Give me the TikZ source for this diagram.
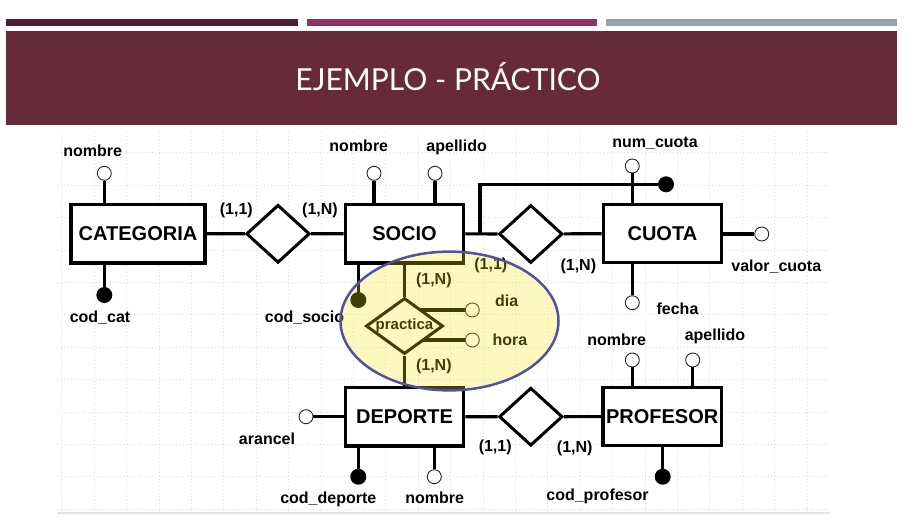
\documentclass[tikz,border=0pt]{standalone}
\usepackage{fontspec}
\setmainfont{Liberation Sans}
\newfontfamily\headfont{Lato}
\usetikzlibrary{shapes.geometric}

\pgfdeclarelayer{gridlayer}
\pgfdeclarelayer{edgelayer}
\pgfdeclarelayer{tintlayer}
\pgfsetlayers{gridlayer,edgelayer,main,tintlayer}

\definecolor{barA}{RGB}{75,26,51}
\definecolor{barB}{RGB}{143,49,98}
\definecolor{barC}{RGB}{155,161,168}
\definecolor{banner}{RGB}{103,42,58}
\definecolor{gridc}{RGB}{214,223,245}
\definecolor{framec}{RGB}{228,228,232}
\definecolor{lensfill}{RGB}{245,230,20}
\definecolor{lensline}{RGB}{80,82,160}

\tikzset{
  ent/.style={draw, line width=3.3pt, fill=white, minimum width=118.5pt,
    minimum height=58.5pt, inner sep=0pt,
    font=\fontsize{20}{24}\selectfont\bfseries},
  rel/.style={diamond, draw, line width=3pt, fill=white, inner sep=0pt,
    minimum width=63.5pt, minimum height=58pt},
  attr/.style={circle, draw=black!85, line width=0.9pt, fill=white,
    minimum size=14pt, inner sep=0pt},
  keyattr/.style={circle, fill=black, minimum size=16pt, inner sep=0pt},
  lbl/.style={anchor=base, inner sep=0pt,
    font=\fontsize{16}{19}\selectfont\bfseries},
  link/.style={line width=3.2pt},
  gridline/.style={gridc, line width=0.8pt, dash pattern=on 0.9pt off 2.6pt},
}

\begin{document}
\begin{tikzpicture}[x=1pt, y=-1pt]
\useasboundingbox (0,0) rectangle (917,522);

% page, header bars, banner and dotted drawing grid
\begin{pgfonlayer}{gridlayer}
  \fill[white] (0,0) rectangle (917,522);
  \fill[barA] (6,19) rectangle (298,26);
  \fill[barB] (307,19) rectangle (597,26);
  \fill[barC] (606,19) rectangle (897,26);
  \fill[banner] (6,31) rectangle (897,125);
  \foreach \k in {0,...,23}
    \draw[gridline] (61.7+32.4*\k,132) -- (61.7+32.4*\k,512);
  \foreach \k in {0,...,11}
    \draw[gridline] (57,152.7+32.4*\k) -- (828,152.7+32.4*\k);
  \draw[framec, line width=1.2pt] (57,513) -- (830,513);
\end{pgfonlayer}

\node[anchor=base, inner sep=0pt, text=white] (title) at (448,90.7)
  {\resizebox{305pt}{\height}{\headfont\fontsize{30.3}{34}\selectfont EJEMPLO - PRÁCTICO}};

% entities
\node[ent, minimum width=134pt] (cat) at (138,233.8) {CATEGORIA};
\node[ent] (soc) at (404.5,233.7) {SOCIO};
\node[ent] (cuo) at (662.4,233.5) {CUOTA};
\node[ent] (dep) at (404.5,416.7) {DEPORTE};
\node[ent] (pro) at (662.2,416.5) {PROFESOR};

% relationships
\node[rel] (r1) at (278,233.8) {};
\node[rel] (r2) at (530.8,234) {};
\node[rel] (r3) at (530.8,416.7) {};
\node[rel, minimum width=77pt, minimum height=56pt, shape aspect=1.4,
  font=\fontsize{15}{18}\selectfont\bfseries] (prac) at (404.5,326) {practica};

% attributes
\node[attr] (catnom) at (104.3,173.3) {};
\node[keyattr] (catkey) at (104.3,295) {};
\node[attr] (socnom) at (374,173.3) {};
\node[attr] (socape) at (435,173.3) {};
\node[keyattr] (sockey) at (358.3,300) {};
\node[attr] (cuonum) at (632.3,166) {};
\node[keyattr] (cuokey) at (666,184.3) {};
\node[attr] (cuoval) at (761.7,234) {};
\node[attr] (cuofec) at (632.3,302.7) {};
\node[attr] (dia) at (472.3,310) {};
\node[attr] (hora) at (472.3,340) {};
\node[attr] (deparan) at (306,416.7) {};
\node[keyattr] (depkey) at (358.3,476.7) {};
\node[attr] (depnom) at (434.3,476.7) {};
\node[attr] (pronom) at (632.3,360) {};
\node[attr] (proape) at (692.7,360) {};
\node[keyattr] (prokey) at (662.7,476.7) {};
\coordinate (jn) at (480,233.7);

% connectors
\begin{pgfonlayer}{edgelayer}
  \draw[link] (cat) -- (r1) -- (soc);
  \draw[link] (soc) -- (r2) -- (cuo);
  \draw[link] (soc) -- (prac) -- (dep);
  \draw[link] (dep) -- (r3) -- (pro);
  \draw[link] (jn) |- (cuokey);
  \draw[link] (catnom) -- (catnom |- cat.north);
  \draw[link] (catkey) -- (catkey |- cat.south);
  \draw[link] (socnom) -- (socnom |- soc.north);
  \draw[link] (socape) -- (socape |- soc.north);
  \draw[link] (sockey) -- (sockey |- soc.south);
  \draw[link] (cuonum) -- (cuonum |- cuo.north);
  \draw[link] (cuofec) -- (cuofec |- cuo.south);
  \draw[link] (cuoval) -- (cuoval -| cuo.east);
  \draw[link] (dia) -- (dia -| prac.center);
  \draw[link] (hora) -- (hora -| prac.center);
  \draw[link] (deparan) -- (deparan -| dep.west);
  \draw[link] (depkey) -- (depkey |- dep.south);
  \draw[link] (depnom) -- (depnom |- dep.south);
  \draw[link] (pronom) -- (pronom |- pro.north);
  \draw[link] (proape) -- (proape |- pro.north);
  \draw[link] (prokey) -- (prokey |- pro.south);
\end{pgfonlayer}

% attribute names and cardinalities
\node[lbl] (tcatnom) at (92.7,156) {nombre};
\node[lbl] (tcatkey) at (100,322.5) {cod\_cat};
\node[lbl] (c1) at (236.3,214) {(1,1)};
\node[lbl] (c2) at (320,214) {(1,N)};
\node[lbl] (tsocnom) at (358.8,151.7) {nombre};
\node[lbl] (tsocape) at (456.7,151.7) {apellido};
\node[lbl] (tcuonum) at (655,147.3) {num\_cuota};
\node[lbl] (tcuoval) at (776.3,271.7) {valor\_cuota};
\node[lbl] (tcuofec) at (677.5,314) {fecha};
\node[lbl] (c3) at (490.8,269.3) {(1,1)};
\node[lbl] (c4) at (578.3,270) {(1,N)};
\node[lbl] (c5) at (433.8,284.3) {(1,N)};
\node[lbl] (c6) at (433.8,370.7) {(1,N)};
\node[lbl] (tdia) at (506.7,306.7) {dia};
\node[lbl] (thora) at (510,345.7) {hora};
\node[lbl] (tsockey) at (304.5,322.7) {cod\_socio};
\node[lbl] (tdeparan) at (267,444) {arancel};
\node[lbl] (tdepkey) at (328.3,503.3) {cod\_deporte};
\node[lbl] (tdepnom) at (434.7,503.3) {nombre};
\node[lbl] (c7) at (495.2,451.7) {(1,1)};
\node[lbl] (c8) at (574.7,452.3) {(1,N)};
\node[lbl] (tpronom) at (616.7,345.7) {nombre};
\node[lbl] (tproape) at (715,340.7) {apellido};
\node[lbl] (tprokey) at (597.5,500) {cod\_profesor};

% translucent highlight over the practica relationship
\begin{pgfonlayer}{tintlayer}
  \fill[lensfill, opacity=0.27] (449.5,321) ellipse [x radius=109, y radius=69.4];
  \draw[lensline, line width=2.5pt] (449.5,321) ellipse [x radius=109, y radius=69.4];
\end{pgfonlayer}
\end{tikzpicture}
\end{document}
